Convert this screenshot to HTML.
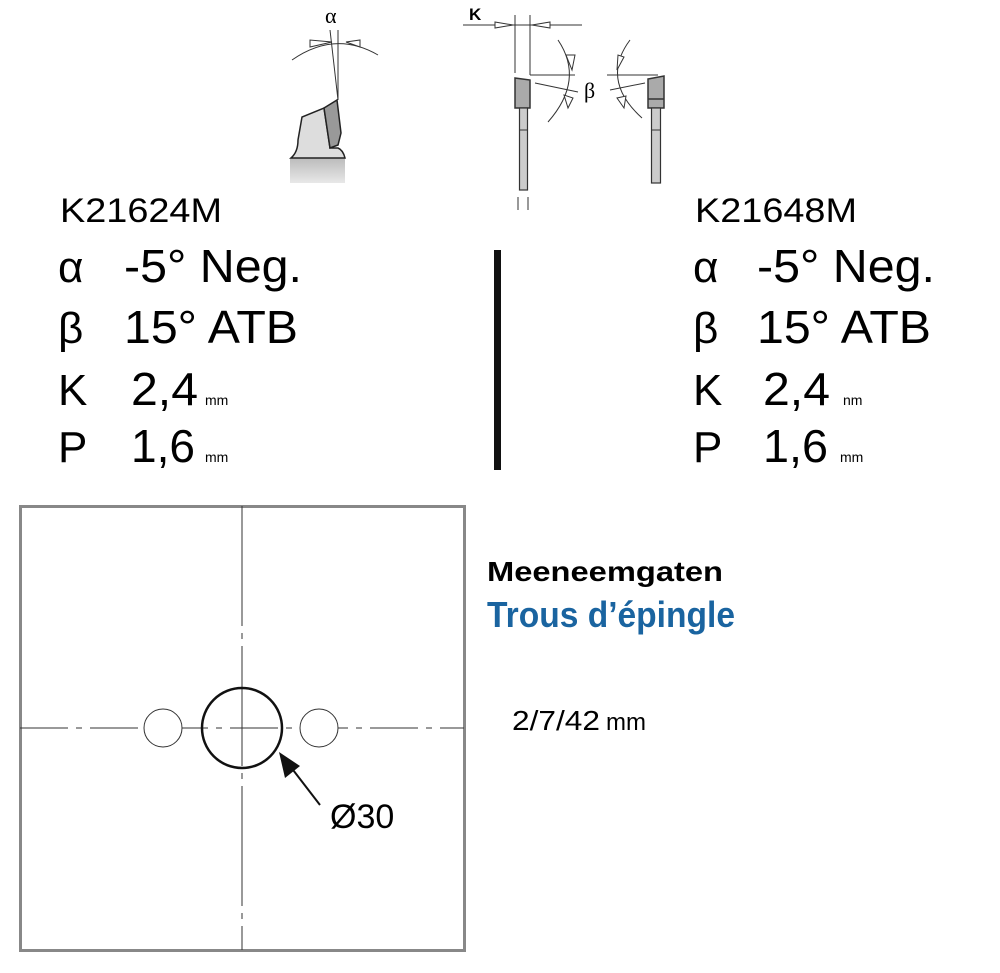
<!DOCTYPE html>
<html><head><meta charset="utf-8"><style>html,body{margin:0;padding:0;background:#fff}svg{display:block}</style></head>
<body>
<svg width="1000" height="973" viewBox="0 0 1000 973" xmlns="http://www.w3.org/2000/svg" font-family="Liberation Sans, sans-serif">
<defs>
<linearGradient id="g1" x1="0" y1="0" x2="0" y2="1"><stop offset="0" stop-color="#bbb"/><stop offset="1" stop-color="#e8e8e8"/></linearGradient>
</defs>
<!-- left tooth diagram -->
<text x="325" y="23" font-family="Liberation Serif, serif" font-size="22">α</text>
<path d="M292 60 Q335 30 378 55" fill="none" stroke="#333" stroke-width="1"/>
<line x1="338" y1="30" x2="338" y2="100" stroke="#333" stroke-width="1"/>
<line x1="330" y1="30" x2="338" y2="100" stroke="#333" stroke-width="1"/>
<path d="M310 47 L332 42 L310 40 Z M346 42 L360 40 L360 47 Z" fill="#fff" stroke="#333" stroke-width="1"/>
<rect x="290" y="158" width="55" height="25" fill="url(#g1)"/>
<path d="M291 158 Q298 152 298 140 L302 117 L324 108 L330 148 L338 148 Q343 150 345 158 Z" fill="#ddd" stroke="#222" stroke-width="1.5"/>
<path d="M324 108 L337 100 L341 133 L338 145 L330 148 Z" fill="#999" stroke="#222" stroke-width="1.5"/>
<!-- right blade diagram -->
<text x="469" y="20" font-size="17" font-weight="bold">K</text>
<line x1="463" y1="25" x2="582" y2="25" stroke="#333" stroke-width="1"/>
<line x1="515" y1="15" x2="515" y2="73" stroke="#333" stroke-width="1"/>
<line x1="530" y1="15" x2="530" y2="75" stroke="#333" stroke-width="1"/>
<path d="M495 22 L513 25 L495 28 Z M532 25 L550 22 L550 28 Z" fill="#fff" stroke="#333" stroke-width="1"/>
<line x1="530" y1="75" x2="575" y2="75" stroke="#333" stroke-width="1"/>
<line x1="535" y1="83" x2="578" y2="92" stroke="#333" stroke-width="1"/>
<path d="M558 40 Q585 80 548 122" fill="none" stroke="#333" stroke-width="1"/>
<path d="M566 55 L572 70 L575 55 Z M564 95 L568 108 L573 98 Z" fill="#fff" stroke="#333" stroke-width="1"/>
<text x="584" y="98" font-family="Liberation Serif, serif" font-size="22">β</text>
<line x1="607" y1="75" x2="658" y2="75" stroke="#333" stroke-width="1"/>
<line x1="610" y1="90" x2="645" y2="83" stroke="#333" stroke-width="1"/>
<path d="M630 40 Q600 80 642 118" fill="none" stroke="#333" stroke-width="1"/>
<path d="M618 55 L617 70 L624 57 Z M617 98 L624 108 L626 96 Z" fill="#fff" stroke="#333" stroke-width="1"/>
<path d="M515 78 L530 80 L530 108 L515 108 Z" fill="#aaa" stroke="#333" stroke-width="1.5"/>
<rect x="519.5" y="108" width="8" height="82" fill="#ccc" stroke="#333" stroke-width="1.2"/>
<line x1="519.5" y1="130" x2="527.5" y2="130" stroke="#333"/>
<line x1="518" y1="197" x2="518" y2="210" stroke="#333"/>
<line x1="528" y1="197" x2="528" y2="210" stroke="#333"/>
<path d="M648 79 L664 76 L664 108 L648 108 Z" fill="#aaa" stroke="#333" stroke-width="1.5"/>
<line x1="648" y1="99" x2="664" y2="99" stroke="#333" stroke-width="1.5"/>
<rect x="651.5" y="108" width="9" height="75" fill="#ccc" stroke="#333" stroke-width="1.2"/>
<line x1="651.5" y1="130" x2="660.5" y2="130" stroke="#333"/>
<!-- left specs -->
<text x="60" y="222" font-size="34" textLength="162" lengthAdjust="spacingAndGlyphs">K21624M</text>
<text x="58" y="282" font-size="44">α</text>
<text x="124" y="282" font-size="46" textLength="178" lengthAdjust="spacingAndGlyphs">-5° Neg.</text>
<text x="58" y="343" font-size="44">β</text>
<text x="124" y="343" font-size="46" textLength="174" lengthAdjust="spacingAndGlyphs">15° ATB</text>
<text x="58" y="405" font-size="44">K</text>
<text x="131" y="405" font-size="46" textLength="67" lengthAdjust="spacingAndGlyphs">2,4</text>
<text x="205" y="405" font-size="14">mm</text>
<text x="58" y="462" font-size="44">P</text>
<text x="131" y="462" font-size="46" textLength="64" lengthAdjust="spacingAndGlyphs">1,6</text>
<text x="205" y="462" font-size="14">mm</text>
<rect x="494" y="250" width="7" height="220" fill="#111"/>
<!-- right specs -->
<text x="695" y="222" font-size="34" textLength="162" lengthAdjust="spacingAndGlyphs">K21648M</text>
<text x="693" y="282" font-size="44">α</text>
<text x="757" y="282" font-size="46" textLength="178" lengthAdjust="spacingAndGlyphs">-5° Neg.</text>
<text x="693" y="343" font-size="44">β</text>
<text x="757" y="343" font-size="46" textLength="174" lengthAdjust="spacingAndGlyphs">15° ATB</text>
<text x="693" y="405" font-size="44">K</text>
<text x="763" y="405" font-size="46" textLength="67" lengthAdjust="spacingAndGlyphs">2,4</text>
<text x="843" y="405" font-size="14">nm</text>
<text x="693" y="462" font-size="44">P</text>
<text x="763" y="462" font-size="46" textLength="65" lengthAdjust="spacingAndGlyphs">1,6</text>
<text x="840" y="462" font-size="14">mm</text>
<!-- bottom square -->
<rect x="20.5" y="506.5" width="444" height="444" fill="#fff" stroke="#888" stroke-width="3"/>
<line x1="242" y1="506" x2="242" y2="950" stroke="#333" stroke-width="1" stroke-dasharray="120,7,6,7"/>
<line x1="20" y1="728" x2="464" y2="728" stroke="#333" stroke-width="1" stroke-dasharray="48,8,6,8"/>
<circle cx="242" cy="728" r="40" fill="none" stroke="#111" stroke-width="2.5"/>
<circle cx="163" cy="728" r="19" fill="#fff" stroke="#333" stroke-width="1"/>
<circle cx="319" cy="728" r="19" fill="#fff" stroke="#333" stroke-width="1"/>
<line x1="320" y1="805" x2="290" y2="766" stroke="#111" stroke-width="2"/>
<path d="M279 752 L300 766 L285 778 Z" fill="#111"/>
<text x="330" y="828" font-size="34">Ø30</text>
<!-- right labels -->
<text x="487" y="581" font-size="28" font-weight="bold" textLength="236" lengthAdjust="spacingAndGlyphs">Meeneemgaten</text>
<text x="487" y="627" font-size="36" font-weight="bold" fill="#1a64a0" textLength="248" lengthAdjust="spacingAndGlyphs">Trous d’épingle</text>
<text x="512" y="730" font-size="28" textLength="88" lengthAdjust="spacingAndGlyphs">2/7/42</text>
<text x="606" y="730" font-size="24">mm</text>
</svg>
</body></html>
